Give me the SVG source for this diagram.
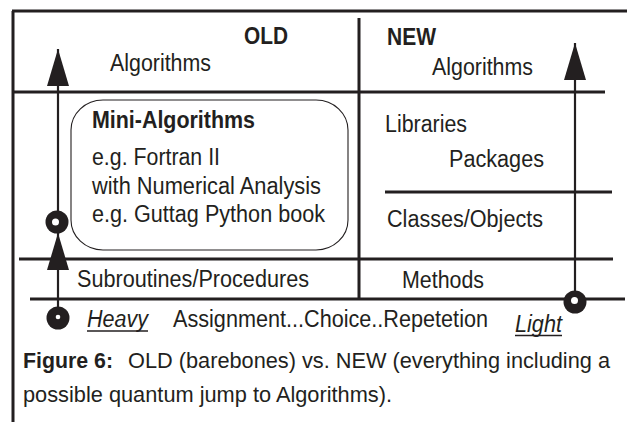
<svg xmlns="http://www.w3.org/2000/svg" width="629" height="422" viewBox="0 0 629 422">
  <defs>
    <style>
      .rule { stroke: #231f20; stroke-width: 3; fill: none; }
      .shaft { stroke: #231f20; stroke-width: 2.2; fill: none; }
      .box { stroke: #231f20; stroke-width: 1.1; fill: none; }
      .t { font-family: "Liberation Sans", Arial, sans-serif; font-size: 23px; fill: #231f20; }
      .c { font-size: 22.5px; }
      .b { font-weight: bold; }
      .i { font-style: italic; }
      .ul { stroke: #231f20; stroke-width: 1.5; }
      .knob { fill: #231f20; }
      .hole { fill: #ffffff; }
    </style>
    <marker id="head" viewBox="0 0 37 22" markerWidth="37" markerHeight="22" refX="37" refY="11" orient="auto" markerUnits="userSpaceOnUse">
      <path d="M0,0 L37,11 L0,22 Z" fill="#231f20"/>
    </marker>
  </defs>

  <rect width="629" height="422" fill="#ffffff"/>

  <!-- frame and grid rules -->
  <g id="frame">
    <line class="rule" x1="13" y1="11" x2="13" y2="422"/>
    <line class="rule" x1="12" y1="11" x2="627" y2="11"/>
    <line class="rule" x1="13" y1="92" x2="605" y2="92"/>
    <line class="rule" x1="359" y1="18" x2="359" y2="299"/>
    <line class="rule" x1="385" y1="192" x2="612" y2="192"/>
    <line class="rule" x1="19" y1="259" x2="613" y2="259"/>
    <line class="rule" x1="30" y1="299" x2="625" y2="299"/>
  </g>

  <!-- OLD column header -->
  <g id="old-header">
    <text class="t b" x="244" y="44" textLength="44" lengthAdjust="spacingAndGlyphs">OLD</text>
    <text class="t" x="110" y="71" textLength="101" lengthAdjust="spacingAndGlyphs">Algorithms</text>
  </g>

  <!-- NEW column header -->
  <g id="new-header">
    <text class="t b" x="387" y="45" textLength="49" lengthAdjust="spacingAndGlyphs">NEW</text>
    <text class="t" x="432" y="75" textLength="101" lengthAdjust="spacingAndGlyphs">Algorithms</text>
  </g>

  <!-- rounded box -->
  <g id="mini-algorithms">
    <rect class="box" x="71" y="100" width="277" height="150" rx="32" ry="30"/>
    <text class="t b" x="92" y="128" textLength="163" lengthAdjust="spacingAndGlyphs">Mini-Algorithms</text>
    <text class="t" x="92" y="165" textLength="128" lengthAdjust="spacingAndGlyphs">e.g. Fortran II</text>
    <text class="t" x="92" y="194" textLength="229" lengthAdjust="spacingAndGlyphs">with Numerical Analysis</text>
    <text class="t" x="92" y="222" textLength="233" lengthAdjust="spacingAndGlyphs">e.g. Guttag Python book</text>
  </g>

  <g id="libraries">
    <text class="t" x="385" y="132" textLength="82" lengthAdjust="spacingAndGlyphs">Libraries</text>
    <text class="t" x="449" y="167" textLength="95" lengthAdjust="spacingAndGlyphs">Packages</text>
  </g>

  <g id="classes">
    <text class="t" x="387" y="227" textLength="156" lengthAdjust="spacingAndGlyphs">Classes/Objects</text>
  </g>

  <g id="subroutines">
    <text class="t" x="77" y="287" textLength="232" lengthAdjust="spacingAndGlyphs">Subroutines/Procedures</text>
  </g>

  <g id="methods">
    <text class="t" x="402" y="288" textLength="82" lengthAdjust="spacingAndGlyphs">Methods</text>
  </g>

  <g id="basics">
    <text class="t i" x="87" y="327" textLength="61" lengthAdjust="spacingAndGlyphs">Heavy</text>
    <line class="ul" x1="87" y1="331" x2="148" y2="331"/>
    <text class="t" x="173" y="327" textLength="315" lengthAdjust="spacingAndGlyphs">Assignment...Choice..Repetetion</text>
    <text class="t i" x="515" y="332" textLength="47" lengthAdjust="spacingAndGlyphs">Light</text>
    <line class="ul" x1="515" y1="335.5" x2="562" y2="335.5"/>
  </g>

  <!-- arrows with their round tails -->
  <g id="connectors">
    <line class="shaft" x1="58" y1="211" x2="58" y2="49" marker-end="url(#head)"/>
    <circle class="knob" cx="57" cy="222" r="11.5"/>
    <circle class="hole" cx="55.5" cy="222" r="3.5"/>

    <line class="shaft" x1="58" y1="307" x2="58" y2="233" marker-end="url(#head)"/>
    <circle class="knob" cx="58" cy="318" r="11.5"/>
    <circle class="hole" cx="58" cy="317" r="2.3"/>

    <line class="shaft" x1="575" y1="292" x2="575" y2="43" marker-end="url(#head)"/>
    <circle class="knob" cx="575" cy="302" r="11.5"/>
    <circle class="hole" cx="574.5" cy="300.5" r="3.5"/>
  </g>

  <!-- caption -->
  <g id="caption">
    <text class="t c" x="23" y="368"><tspan class="b" textLength="90" lengthAdjust="spacingAndGlyphs">Figure 6:</tspan><tspan x="128" textLength="482" lengthAdjust="spacingAndGlyphs">OLD (barebones) vs. NEW (everything including a</tspan></text>
    <text class="t c" x="23" y="402" textLength="369" lengthAdjust="spacingAndGlyphs">possible quantum jump to Algorithms).</text>
  </g>
</svg>
